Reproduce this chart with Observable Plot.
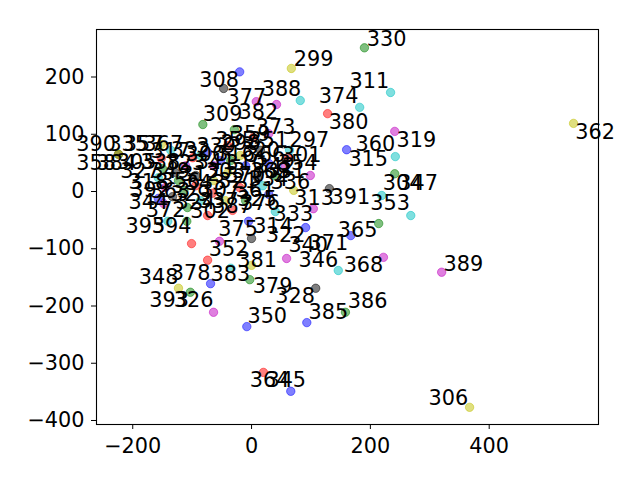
<!DOCTYPE html>
<html><head><meta charset="utf-8">
<script src="https://cdn.jsdelivr.net/npm/d3@7"></script>
<script src="https://cdn.jsdelivr.net/npm/@observablehq/plot@0.6"></script>
<style>body{margin:0;background:#fff} svg{display:block}</style>
</head><body><div id="chart"></div>
<script>
const labels = [297,298,299,300,301,302,303,304,305,306,307,308,309,310,311,312,313,314,315,316,317,318,319,320,321,322,323,324,325,326,327,328,329,330,331,332,333,334,335,336,337,338,339,340,341,342,343,344,345,346,347,348,349,350,351,352,353,354,355,356,357,358,359,360,361,362,363,364,365,366,367,368,369,370,371,372,373,374,375,376,377,378,379,380,381,382,383,384,385,386,387,388,389,390,391,392,393,394,395];
const xs = [64,-40,67,-99,61,-74,-64,219,-145,367,-10,-47,-82,-40,234,-94,104,-5,160,-52,-35,-148,241,-19,-66,91,-157,-108,29,-64,-123,108,-32,190,40,-74,40,19,-152,71,-64,-128,-86,59,-111,10,-94,-157,66,146,241,-123,-114,-8,15,-54,268,57,-29,-133,-136,-224,3,242,99,542,-44,20,214,-10,-152,222,29,-20,167,-109,29,182,0,-20,8,-74,-3,128,0,42,-35,-150,93,158,-69,82,320,-224,131,-86,-103,-101,-141];
const ys = [72,80,215,59,59,-42,19,-7,7,-377,-16,180,117,33,173,28,-30,-52,73,54,54,-21,105,63,-3,-63,24,-28,-5,-211,19,-169,-33,251,28,68,-35,10,82,2,45,33,63,-117,45,24,10,-12,-349,-138,31,-169,2,-236,72,-87,-42,45,108,-9,72,65,94,61,28,119,-16,-316,-56,45,58,-115,49,7,-77,-52,101,147,-82,209,157,-120,-154,136,-129,152,-134,40,-229,-211,-161,159,-141,65,5,-16,-176,-91,-52];
const colorCodes = ["c","r","y","r","r","r","y","c","m","y","g","k","g","y","c","k","m","b","b","b","g","m","m","y","r","b","c","g","b","m","g","k","r","g","g","b","c","c","y","y","m","k","c","m","m","k","r","b","b","c","g","y","g","b","k","m","c","m","g","k","c","k","r","c","m","y","y","r","g","b","r","m","b","r","b","g","m","c","k","b","m","r","g","r","y","m","c","g","b","g","b","c","m","y","k","c","g","r","c"];
const labelX = [64,-52,71,-111,51,-103,-77,221,-227,298,-86,-88,-82,-44,165,-120,72,3,163,-61,-170,-207,244,-19,-56,24,-145,-128,-24,-131,-221,40,-136,194,24,-136,37,-5,-241,32,-89,-187,-93,62,-94,7,-111,-207,25,79,247,-190,-170,-7,-5,-72,200,44,-61,-153,-215,-295,-35,175,-27,545,-170,-3,145,-10,-182,155,-2,-44,96,-178,7,113,-56,-19,-42,-136,2,130,-24,-22,-69,-261,96,162,-66,17,323,-295,133,-204,-172,-168,-212];
const labelY = [77,72,220,54,52,-47,23,2,40,-373,-9,182,124,37,180,19,-23,-73,45,54,58,5,77,61,7,-89,37,-30,-26,-202,23,-195,-16,255,23,61,-51,10,70,5,-28,40,68,-106,40,33,2,-30,-342,-131,3,-161,23,-229,77,-112,-33,37,77,7,70,38,89,70,-9,91,-12,-342,-80,51,70,-141,23,16,-103,-45,101,154,-77,-33,152,-154,-178,110,-131,127,-157,38,-222,-204,-38,166,-138,70,-21,-10,-202,-73,-73];
const xTicks = [-200, 0, 200, 400];
const yTicks = [-400, -300, -200, -100, 0, 100, 200];
const colorDomain = ["r","g","b","c","m","y","k"];
const colorRange = ["#ff0000","#008000","#0000ff","#00bfbf","#bf00bf","#bfbf00","#000000"];

const data = labels.map((l, i) => ({label: String(l), x: xs[i], y: ys[i], c: colorCodes[i], tx: labelX[i], ty: labelY[i]}));

const chart = Plot.plot({
  width: 640, height: 480,
  marginLeft: 96, marginRight: 42, marginTop: 29, marginBottom: 56,
  style: {fontFamily: "DejaVu Sans", fontSize: "20.8px", background: "#fff", color: "#000"},
  x: {domain: [-261, 584], ticks: xTicks, tickSize: 5, tickPadding: 9, label: null},
  y: {domain: [-407, 283], ticks: yTicks, tickSize: 5, tickPadding: 7, label: null},
  color: {domain: colorDomain, range: colorRange},
  marks: [
    Plot.dot(data, {x: "x", y: "y", fill: "c", stroke: "c", r: 4.2, fillOpacity: 0.5, strokeOpacity: 0.5, strokeWidth: 1}),
    Plot.text(data, {x: "tx", y: "ty", text: "label", textAnchor: "start", lineAnchor: "bottom", fontSize: 20.8, fill: "#000"}),
    Plot.frame({stroke: "#000", strokeWidth: 1.1})
  ]
});
document.getElementById("chart").appendChild(chart);
</script>
</body></html>
